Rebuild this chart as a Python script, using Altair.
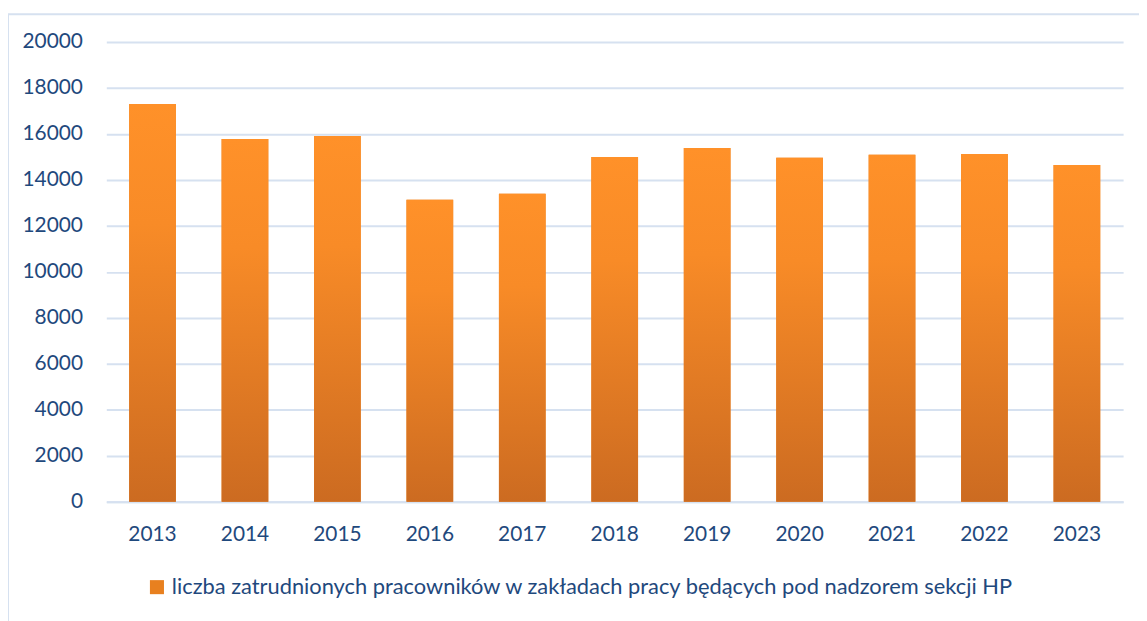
import altair as alt
import pandas as pd

years = ["2013", "2014", "2015", "2016", "2017", "2018", "2019", "2020", "2021", "2022", "2023"]
values = [17300, 15780, 15910, 13140, 13400, 15000, 15390, 14960, 15090, 15130, 14650]
series_name = "liczba zatrudnionych pracowników w zakładach pracy będących pod nadzorem sekcji HP"
y_ticks = [0, 2000, 4000, 6000, 8000, 10000, 12000, 14000, 16000, 18000, 20000]

df = pd.DataFrame({"rok": years, "wartosc": values, "seria": series_name})
frame_df = pd.DataFrame({"k": [0]})

TEXT = "#1F497D"
FONT = "Lato"
W, H = 1024, 463

x_enc = alt.X("rok:N", sort=years, title=None,
              scale=alt.Scale(paddingInner=0.495, paddingOuter=0.2475),
              axis=alt.Axis(labelAngle=0, labelFontSize=21, labelColor=TEXT, labelFont=FONT,
                            labelPadding=22, ticks=False, domain=True, domainColor="#D6E1F0",
                            domainWidth=2, grid=False))
y_enc = alt.Y("wartosc:Q", title=None,
              scale=alt.Scale(domain=[0, 20000], nice=False),
              axis=alt.Axis(values=y_ticks, labelFontSize=21, labelColor=TEXT, labelFont=FONT,
                            labelPadding=24, ticks=False, domain=False, grid=True,
                            gridColor="#D6E1F0", gridWidth=2, format="d"))

legend_bars = alt.Chart(df).mark_bar().encode(
    x=x_enc,
    y=y_enc,
    color=alt.Color("seria:N", scale=alt.Scale(range=["#E8801F"]),
                    legend=alt.Legend(title=None, orient="none", legendX=40, legendY=538,
                                      symbolType="square", symbolSize=200, symbolStrokeWidth=0,
                                      labelFontSize=22, labelColor=TEXT, labelFont=FONT,
                                      labelLimit=1200, labelOffset=4)),
)

gradient = alt.Gradient(
    gradient="linear",
    stops=[alt.GradientStop(color="#FF9129", offset=0),
           alt.GradientStop(color="#F88B27", offset=0.3),
           alt.GradientStop(color="#CC6B21", offset=1)],
    x1=0, x2=0, y1=0, y2=1,
)

grad_bars = alt.Chart(df).mark_bar(fill=gradient).encode(x=x_enc, y=y_enc)

frame = alt.Chart(frame_df).mark_rect(fill="white", fillOpacity=0, stroke="#D6E1F0", strokeWidth=2).encode(
    x=alt.value(-99), x2=alt.value(1100), y=alt.value(-28), y2=alt.value(700)
)

chart = alt.layer(frame, legend_bars, grad_bars).properties(
    width=W, height=H,
    autosize=alt.AutoSizeParams(type="none"),
    padding={"left": 99, "top": 32, "right": 16, "bottom": 140},
    background="white",
).configure_view(stroke=None)

chart.save("out.html", embed_options={"renderer": "svg", "actions": False})
